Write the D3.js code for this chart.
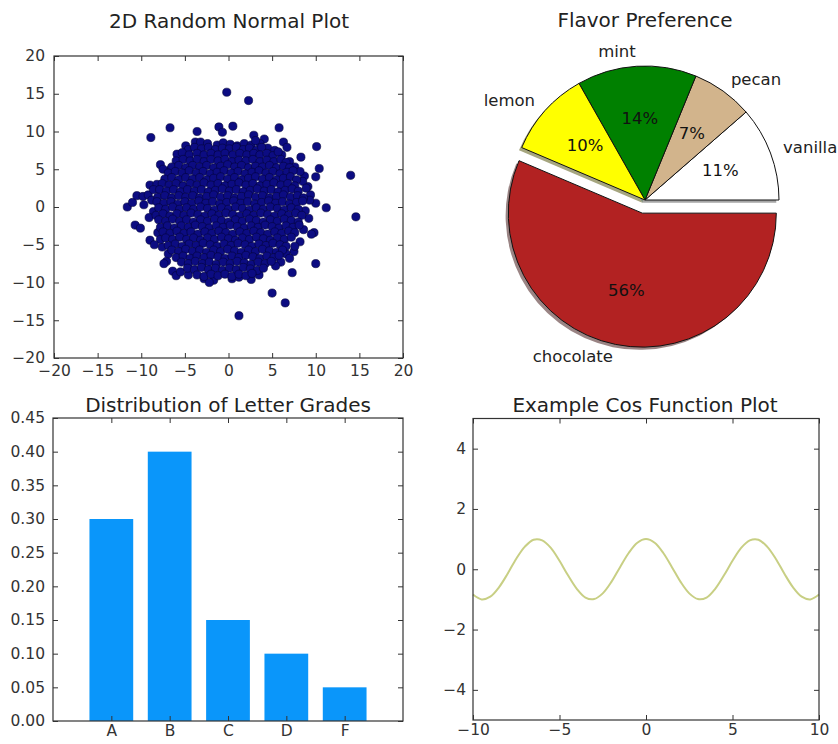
<!DOCTYPE html>
<html>
<head>
<meta charset="utf-8">
<script src="https://cdn.jsdelivr.net/npm/d3@7"></script>
<style>
  html, body { margin: 0; padding: 0; background: #fff; }
  svg { display: block; }
</style>
</head>
<body>
<svg id="fig" width="838" height="744"></svg>
<script>
// ---------- data ----------
// 2D random normal sample (x, y)
const scatterPoints = [
  [-0.2,15.2],[2.3,14.1],[-6.7,10.5],[-8.9,9.2],[-3.6,10.0],[-1.1,10.6],[-0.7,9.9],[0.5,10.7],[5.8,10.5],[4.1,9.0],
  [2.9,9.5],[10.1,8.0],[8.3,6.6],[6.3,8.6],[6.7,7.9],[-7.8,5.6],[-6.7,4.9],[14.0,4.2],[10.4,5.1],[10.0,4.0],
  [8.7,4.1],[9.1,2.7],[9.4,1.6],[10.0,0.5],[11.2,-0.1],[14.6,-1.3],[-9.0,2.9],[-11.6,0.0],[-11.0,0.6],[-10.5,1.5],
  [-9.8,1.4],[-9.2,1.6],[-9.7,0.3],[-10.7,-2.4],[-10.1,-2.8],[-9.0,-4.4],[-7.6,-5.3],[-7.1,-7.2],[-7.4,-7.5],[-6.4,-8.5],
  [-6.0,-9.1],[-2.8,-9.5],[-1.7,-9.7],[0.4,-9.5],[1.2,-9.3],[9.8,-3.4],[7.5,-5.9],[10.0,-7.5],[7.3,-8.7],[5.0,-11.4],
  [6.5,-12.7],[1.2,-14.4],[-8.8,0.9],[-8.6,-0.6],[-9.1,-1.4],[8.8,-0.5],[9.2,-1.5],[8.6,-3.0],[9.5,-3.6],[8.2,-4.6],
  [7.6,-5.2],[6.6,-6.2],[7.0,-6.8],[6.0,-7.3],[5.4,-7.8],[-8.2,3.0],[-8.6,2.3],[-7.5,5.0],[-5.9,7.0],[-4.9,8.1],
  [-3.8,8.6],[3.6,8.4],[4.5,7.8],[5.3,7.5],[6.1,6.9],[7.0,6.0],[7.6,5.3],[8.2,4.7],[8.5,3.4],[8.9,2.5],
  [9.3,0.9],[-8.1,-3.4],[-7.8,-4.3],[-8.5,-5.0],[-6.9,-6.2],[-5.5,-8.6],[-4.6,-9.0],[3.5,-9.0],[2.6,-9.6],[-2.2,-10.0],
  [-3.2,8.6],[-2.4,8.4],[-1.3,8.2],[-0.6,8.5],[0.2,8.3],[1.0,8.1],[1.8,8.4],[2.6,8.2],[3.1,8.8],
  [-4.6,7.6],[-3.9,7.9],[-3.1,7.7],[-2.3,7.9],[-1.5,7.6],[-0.7,7.8],[0.1,7.7],[0.9,7.9],[1.7,7.6],[2.4,7.8],[3.2,7.5],[3.8,7.9],
  [-5.3,7.2],[-4.5,6.9],[-3.6,7.1],[-2.8,6.9],[-2.0,7.1],[-1.2,6.9],[-0.4,7.1],[0.5,6.9],[1.3,7.1],[2.1,6.9],[2.9,7.1],[3.6,6.9],[4.4,7.1],[5.1,6.8],[5.7,7.3],
  [-6.0,6.1],[-5.2,6.3],[-4.4,6.1],[-3.6,6.3],[-2.8,6.0],[-2.0,6.3],[-1.2,6.1],[-0.4,6.3],[0.4,6.0],[1.2,6.2],[2.0,6.1],[2.8,6.3],[3.6,6.0],[4.4,6.2],[5.2,6.0],[6.0,6.3],[6.6,5.9],
  [-6.5,5.3],[-5.7,5.5],[-4.9,5.2],[-4.1,5.5],[-3.3,5.3],[-2.5,5.5],[-1.7,5.2],[-0.9,5.4],[-0.1,5.6],[0.7,5.3],[1.5,5.5],[2.3,5.2],[3.1,5.4],[3.9,5.3],[4.7,5.5],[5.5,5.2],[6.3,5.4],[7.0,5.2],
  [-6.9,4.5],[-6.1,4.7],[-5.3,4.5],[-4.5,4.8],[-3.7,4.5],[-2.9,4.7],[-2.1,4.4],[-1.3,4.6],[-0.5,4.8],[0.3,4.5],[1.1,4.7],[1.9,4.4],[2.7,4.6],[3.5,4.8],[4.3,4.5],[5.1,4.7],[5.9,4.4],[6.7,4.6],[7.4,4.8],
  [-7.3,3.7],[-6.5,3.9],[-5.7,3.6],[-4.9,3.9],[-4.1,3.7],[-3.3,3.9],[-2.5,3.6],[-1.7,3.8],[-0.9,4.0],[-0.1,3.7],[0.7,3.9],[1.5,3.6],[2.3,3.8],[3.1,4.0],[3.9,3.7],[4.7,3.9],[5.5,3.6],[6.3,3.8],[7.1,4.0],[7.8,3.6],
  [-7.6,3.1],[-6.8,2.9],[-6.0,3.1],[-5.2,2.8],[-4.4,3.1],[-3.6,2.9],[-2.8,3.2],[-2.0,2.9],[-1.2,3.1],[-0.4,2.8],[0.4,3.0],[1.2,3.2],[2.0,2.9],[2.8,3.1],[3.6,2.8],[4.4,3.0],[5.2,3.2],[6.0,2.9],[6.8,3.1],[7.6,2.8],
  [-7.9,2.3],[-7.1,2.1],[-6.3,2.3],[-5.5,2.0],[-4.7,2.3],[-3.9,2.1],[-3.1,2.3],[-2.3,2.0],[-1.5,2.2],[-0.7,2.4],[0.1,2.1],[0.9,2.3],[1.7,2.0],[2.5,2.2],[3.3,2.4],[4.1,2.1],[4.9,2.3],[5.7,2.0],[6.5,2.2],[7.3,2.4],[8.0,2.1],
  [-8.1,1.3],[-7.3,1.5],[-6.5,1.2],[-5.7,1.5],[-4.9,1.3],[-4.1,1.5],[-3.3,1.2],[-2.5,1.4],[-1.7,1.6],[-0.9,1.3],[-0.1,1.5],[0.7,1.2],[1.5,1.4],[2.3,1.6],[3.1,1.3],[3.9,1.5],[4.7,1.2],[5.5,1.4],[6.3,1.6],[7.1,1.3],[7.9,1.5],[8.6,1.2],
  [-8.2,0.7],[-7.4,0.5],[-6.6,0.7],[-5.8,0.4],[-5.0,0.7],[-4.2,0.5],[-3.4,0.8],[-2.6,0.5],[-1.8,0.7],[-1.0,0.4],[-0.2,0.6],[0.6,0.8],[1.4,0.5],[2.2,0.7],[3.0,0.4],[3.8,0.6],[4.6,0.8],[5.4,0.5],[6.2,0.7],[7.0,0.4],[7.8,0.6],[8.5,0.8],
  [-8.0,-0.1],[-7.2,-0.3],[-6.4,0.0],[-5.6,-0.3],[-4.8,-0.1],[-4.0,-0.3],[-3.2,0.0],[-2.4,-0.2],[-1.6,-0.4],[-0.8,-0.1],[0.0,-0.3],[0.8,0.0],[1.6,-0.2],[2.4,-0.4],[3.2,-0.1],[4.0,-0.3],[4.8,0.0],[5.6,-0.2],[6.4,-0.4],[7.2,-0.1],[8.0,-0.3],
  [-8.3,-1.1],[-7.5,-0.9],[-6.7,-1.2],[-5.9,-0.9],[-5.1,-1.1],[-4.3,-0.8],[-3.5,-1.0],[-2.7,-1.2],[-1.9,-0.9],[-1.1,-1.1],[-0.3,-0.8],[0.5,-1.0],[1.3,-1.2],[2.1,-0.9],[2.9,-1.1],[3.7,-0.8],[4.5,-1.0],[5.3,-1.2],[6.1,-0.9],[6.9,-1.1],[7.7,-0.8],[8.4,-1.1],
  [-8.0,-1.7],[-7.2,-1.9],[-6.4,-1.6],[-5.6,-1.9],[-4.8,-1.7],[-4.0,-2.0],[-3.2,-1.7],[-2.4,-1.9],[-1.6,-1.6],[-0.8,-1.8],[0.0,-2.0],[0.8,-1.7],[1.6,-1.9],[2.4,-1.6],[3.2,-1.8],[4.0,-2.0],[4.8,-1.7],[5.6,-1.9],[6.4,-1.6],[7.2,-1.8],[8.0,-2.0],
  [-7.8,-2.7],[-7.0,-2.5],[-6.2,-2.8],[-5.4,-2.5],[-4.6,-2.7],[-3.8,-2.4],[-3.0,-2.6],[-2.2,-2.8],[-1.4,-2.5],[-0.6,-2.7],[0.2,-2.4],[1.0,-2.6],[1.8,-2.8],[2.6,-2.5],[3.4,-2.7],[4.2,-2.4],[5.0,-2.6],[5.8,-2.8],[6.6,-2.5],[7.4,-2.7],[8.1,-2.4],
  [-7.5,-3.3],[-6.7,-3.5],[-5.9,-3.2],[-5.1,-3.5],[-4.3,-3.3],[-3.5,-3.6],[-2.7,-3.3],[-1.9,-3.5],[-1.1,-3.2],[-0.3,-3.4],[0.5,-3.6],[1.3,-3.3],[2.1,-3.5],[2.9,-3.2],[3.7,-3.4],[4.5,-3.6],[5.3,-3.3],[6.1,-3.5],[6.9,-3.2],[7.6,-3.4],
  [-7.2,-4.1],[-6.4,-4.3],[-5.6,-4.0],[-4.8,-4.3],[-4.0,-4.1],[-3.2,-4.4],[-2.4,-4.1],[-1.6,-4.3],[-0.8,-4.0],[0.0,-4.2],[0.8,-4.4],[1.6,-4.1],[2.4,-4.3],[3.2,-4.0],[4.0,-4.2],[4.8,-4.4],[5.6,-4.1],[6.4,-4.3],[7.2,-4.0],
  [-6.9,-5.1],[-6.1,-4.9],[-5.3,-5.2],[-4.5,-4.9],[-3.7,-5.1],[-2.9,-4.8],[-2.1,-5.0],[-1.3,-5.2],[-0.5,-4.9],[0.3,-5.1],[1.1,-4.8],[1.9,-5.0],[2.7,-5.2],[3.5,-4.9],[4.3,-5.1],[5.1,-4.8],[5.9,-5.0],[6.6,-5.2],
  [-6.5,-5.7],[-5.7,-5.9],[-4.9,-5.6],[-4.1,-5.9],[-3.3,-5.7],[-2.5,-6.0],[-1.7,-5.7],[-0.9,-5.9],[-0.1,-5.6],[0.7,-5.8],[1.5,-6.0],[2.3,-5.7],[3.1,-5.9],[3.9,-5.6],[4.7,-5.8],[5.5,-6.0],[6.2,-5.7],
  [-6.0,-6.7],[-5.2,-6.5],[-4.4,-6.8],[-3.6,-6.5],[-2.8,-6.7],[-2.0,-6.4],[-1.2,-6.6],[-0.4,-6.8],[0.4,-6.5],[1.2,-6.7],[2.0,-6.4],[2.8,-6.6],[3.6,-6.8],[4.4,-6.5],[5.2,-6.7],[5.8,-6.4],
  [-5.4,-7.3],[-4.6,-7.5],[-3.8,-7.2],[-3.0,-7.5],[-2.2,-7.3],[-1.4,-7.6],[-0.6,-7.3],[0.2,-7.5],[1.0,-7.2],[1.8,-7.4],[2.6,-7.6],[3.4,-7.3],[4.2,-7.5],[4.9,-7.2],
  [-4.7,-8.1],[-3.9,-8.3],[-3.1,-8.0],[-2.3,-8.3],[-1.5,-8.1],[-0.7,-8.4],[0.1,-8.1],[0.9,-8.3],[1.7,-8.0],[2.5,-8.2],[3.3,-8.4],[4.0,-8.1],
  [-3.6,-9.0],[-2.8,-9.2],[-2.0,-8.9],[-1.2,-9.1],[-0.4,-8.9],[0.4,-9.2],[1.2,-8.9],[2.0,-9.1],[2.7,-8.8]
];
const scatterTicks = [-20, -15, -10, -5, 0, 5, 10, 15, 20];

// flavour preference (percent)
const flavors = ["vanilla", "pecan", "mint", "lemon", "chocolate"];
const flavorShares = [11.4, 7.4, 14.4, 10.4, 56.4];
const flavorColors = ["#ffffff", "#d2b48c", "#008000", "#ffff00", "#b22222"];
const flavorExplode = [0, 0, 0, 0, 0.1];

// letter grade distribution
const grades = ["A", "B", "C", "D", "F"];
const gradeShares = [0.30, 0.40, 0.15, 0.10, 0.05];
const gradeTicks = [0, 0.05, 0.10, 0.15, 0.20, 0.25, 0.30, 0.35, 0.40, 0.45];

// cosine samples
const cosX = [-10,-9.5,-9,-8.5,-8,-7.5,-7,-6.5,-6,-5.5,-5,-4.5,-4,-3.5,-3,-2.5,-2,-1.5,-1,-0.5,0,
              0.5,1,1.5,2,2.5,3,3.5,4,4.5,5,5.5,6,6.5,7,7.5,8,8.5,9,9.5,10];
const cosY = [-0.84,-1.00,-0.91,-0.60,-0.15,0.35,0.75,0.98,0.96,0.71,0.28,-0.21,-0.65,-0.94,-0.99,-0.80,-0.42,0.07,0.54,0.88,1.00,
              0.88,0.54,0.07,-0.42,-0.80,-0.99,-0.94,-0.65,-0.21,0.28,0.71,0.96,0.98,0.75,0.35,-0.15,-0.60,-0.91,-1.00,-0.84];
const cosXTicks = [-10, -5, 0, 5, 10];
const cosYTicks = [-4, -2, 0, 2, 4];

// ---------- drawing ----------
const FONT = "DejaVu Sans, Verdana, sans-serif";
const TICK_FS = 15.5, TITLE_FS = 20, PIE_FS = 16.5;
const svg = d3.select("#fig");
svg.append("rect").attr("width", 838).attr("height", 744).attr("fill", "#fff");

// boxed axes with inward ticks on all four sides
function boxAxes(g, x, y, xt, yt, xfmt, yfmt, xpad, ypad) {
  const [x0, x1] = x.range();
  const [y0, y1] = y.range();
  const styled = sel => {
    sel.attr("font-family", FONT).attr("font-size", TICK_FS);
    sel.select(".domain").remove();
    sel.selectAll("line").attr("stroke", "#333").attr("stroke-width", 1);
    sel.selectAll("text").attr("fill", "#333");
  };
  g.append("g").attr("transform", `translate(0,${y0})`)
    .call(d3.axisBottom(x).tickValues(xt).tickFormat(xfmt).tickSize(-5).tickPadding(xpad)).call(styled);
  g.append("g").attr("transform", `translate(0,${y1})`)
    .call(d3.axisTop(x).tickValues(xt).tickFormat("").tickSize(-5)).call(styled);
  g.append("g").attr("transform", `translate(${x0},0)`)
    .call(d3.axisLeft(y).tickValues(yt).tickFormat(yfmt).tickSize(-5).tickPadding(ypad)).call(styled);
  g.append("g").attr("transform", `translate(${x1},0)`)
    .call(d3.axisRight(y).tickValues(yt).tickFormat("").tickSize(-5)).call(styled);
  g.append("rect")
    .attr("x", x0).attr("y", y1).attr("width", x1 - x0).attr("height", y0 - y1)
    .attr("fill", "none").attr("stroke", "#333").attr("stroke-width", 1.2);
}

function title(text, cx, baseline) {
  svg.append("text").attr("x", cx).attr("y", baseline)
    .attr("text-anchor", "middle").attr("font-family", FONT)
    .attr("font-size", TITLE_FS).attr("fill", "#222").text(text);
}

const minusFmt = d3.format("");

// --- scatter ---
{
  const x = d3.scaleLinear().domain([-20, 20]).range([54, 403]);
  const y = d3.scaleLinear().domain([-20, 20]).range([358, 56]);
  const g = svg.append("g");
  g.append("g").selectAll("circle").data(scatterPoints).join("circle")
    .attr("cx", d => x(d[0])).attr("cy", d => y(d[1])).attr("r", 4.1)
    .attr("fill", "#0c0c82").attr("stroke", "#03033a").attr("stroke-width", 0.6);
  boxAxes(g, x, y, scatterTicks, scatterTicks, minusFmt, minusFmt, 7, 9);
  title("2D Random Normal Plot", 229, 28);
}

// --- pie ---
{
  const cx = 645, cy = 200, r = 134;
  const total = d3.sum(flavorShares);
  const pie = d3.pie().sort(null).value(d => d)
    .startAngle(Math.PI / 2).endAngle(Math.PI / 2 - 2 * Math.PI);
  const arcs = pie(flavorShares);
  const arc = d3.arc().innerRadius(0).outerRadius(r);
  const g = svg.append("g").attr("transform", `translate(${cx},${cy})`);
  const mid = a => (a.startAngle + a.endAngle) / 2;
  const off = (a, i) => {
    const m = mid(a), e = flavorExplode[i] * r;
    return [Math.sin(m) * e, -Math.cos(m) * e];
  };
  // shadows
  g.append("g").selectAll("path").data(arcs).join("path")
    .attr("d", arc)
    .attr("transform", (a, i) => { const [dx, dy] = off(a, i); return `translate(${dx - 2.7},${dy + 2.7})`; })
    .attr("fill", (a, i) => { const c = d3.rgb(flavorColors[i]); return d3.rgb(c.r * 0.3, c.g * 0.3, c.b * 0.3); })
    .attr("fill-opacity", 0.5);
  // wedges
  g.append("g").selectAll("path").data(arcs).join("path")
    .attr("d", arc)
    .attr("transform", (a, i) => { const [dx, dy] = off(a, i); return `translate(${dx},${dy})`; })
    .attr("fill", (a, i) => flavorColors[i])
    .attr("stroke", "#111").attr("stroke-width", 1);
  // labels
  arcs.forEach((a, i) => {
    const m = mid(a);
    const [dx, dy] = off(a, i);
    const lx = dx + Math.sin(m) * r * 1.1, ly = dy - Math.cos(m) * r * 1.1;
    g.append("text").attr("x", lx).attr("y", ly).attr("dy", "0.26em")
      .attr("text-anchor", lx > dx ? "start" : "end")
      .attr("font-family", FONT).attr("font-size", PIE_FS).attr("fill", "#222")
      .text(flavors[i]);
    const px = dx + Math.sin(m) * r * 0.6, py = dy - Math.cos(m) * r * 0.6;
    g.append("text").attr("x", px).attr("y", py).attr("dy", "0.26em")
      .attr("text-anchor", "middle")
      .attr("font-family", FONT).attr("font-size", PIE_FS).attr("fill", "#111")
      .text(Math.round(flavorShares[i] / total * 100) + "%");
  });
  title("Flavor Preference", 645, 27);
}

// --- bars ---
{
  const x = d3.scaleLinear().domain([-1, 5]).range([53, 403]);
  const y = d3.scaleLinear().domain([0, 0.45]).range([721, 418]);
  const g = svg.append("g");
  const bw = 0.75;
  g.append("g").selectAll("rect").data(gradeShares).join("rect")
    .attr("x", (d, i) => x(i - bw / 2)).attr("width", (d, i) => x(i + bw / 2) - x(i - bw / 2))
    .attr("y", d => y(d)).attr("height", d => y(0) - y(d))
    .attr("fill", "#0a96fa");
  boxAxes(g, x, y, d3.range(grades.length), gradeTicks, i => grades[i], d3.format(".2f"), 4, 8);
  title("Distribution of Letter Grades", 228, 412);
}

// --- cosine line ---
{
  const x = d3.scaleLinear().domain([-10, 10]).range([473, 819]);
  const y = d3.scaleLinear().domain([-5, 5]).range([720, 418.5]);
  const g = svg.append("g");
  const line = d3.line().x((d, i) => x(cosX[i])).y(d => y(d)).curve(d3.curveCatmullRom);
  g.append("path").datum(cosY).attr("d", line)
    .attr("fill", "none").attr("stroke", "#c8cf84").attr("stroke-width", 2);
  boxAxes(g, x, y, cosXTicks, cosYTicks, minusFmt, minusFmt, 4, 7);
  title("Example Cos Function Plot", 645, 412);
}
</script>
</body>
</html>
